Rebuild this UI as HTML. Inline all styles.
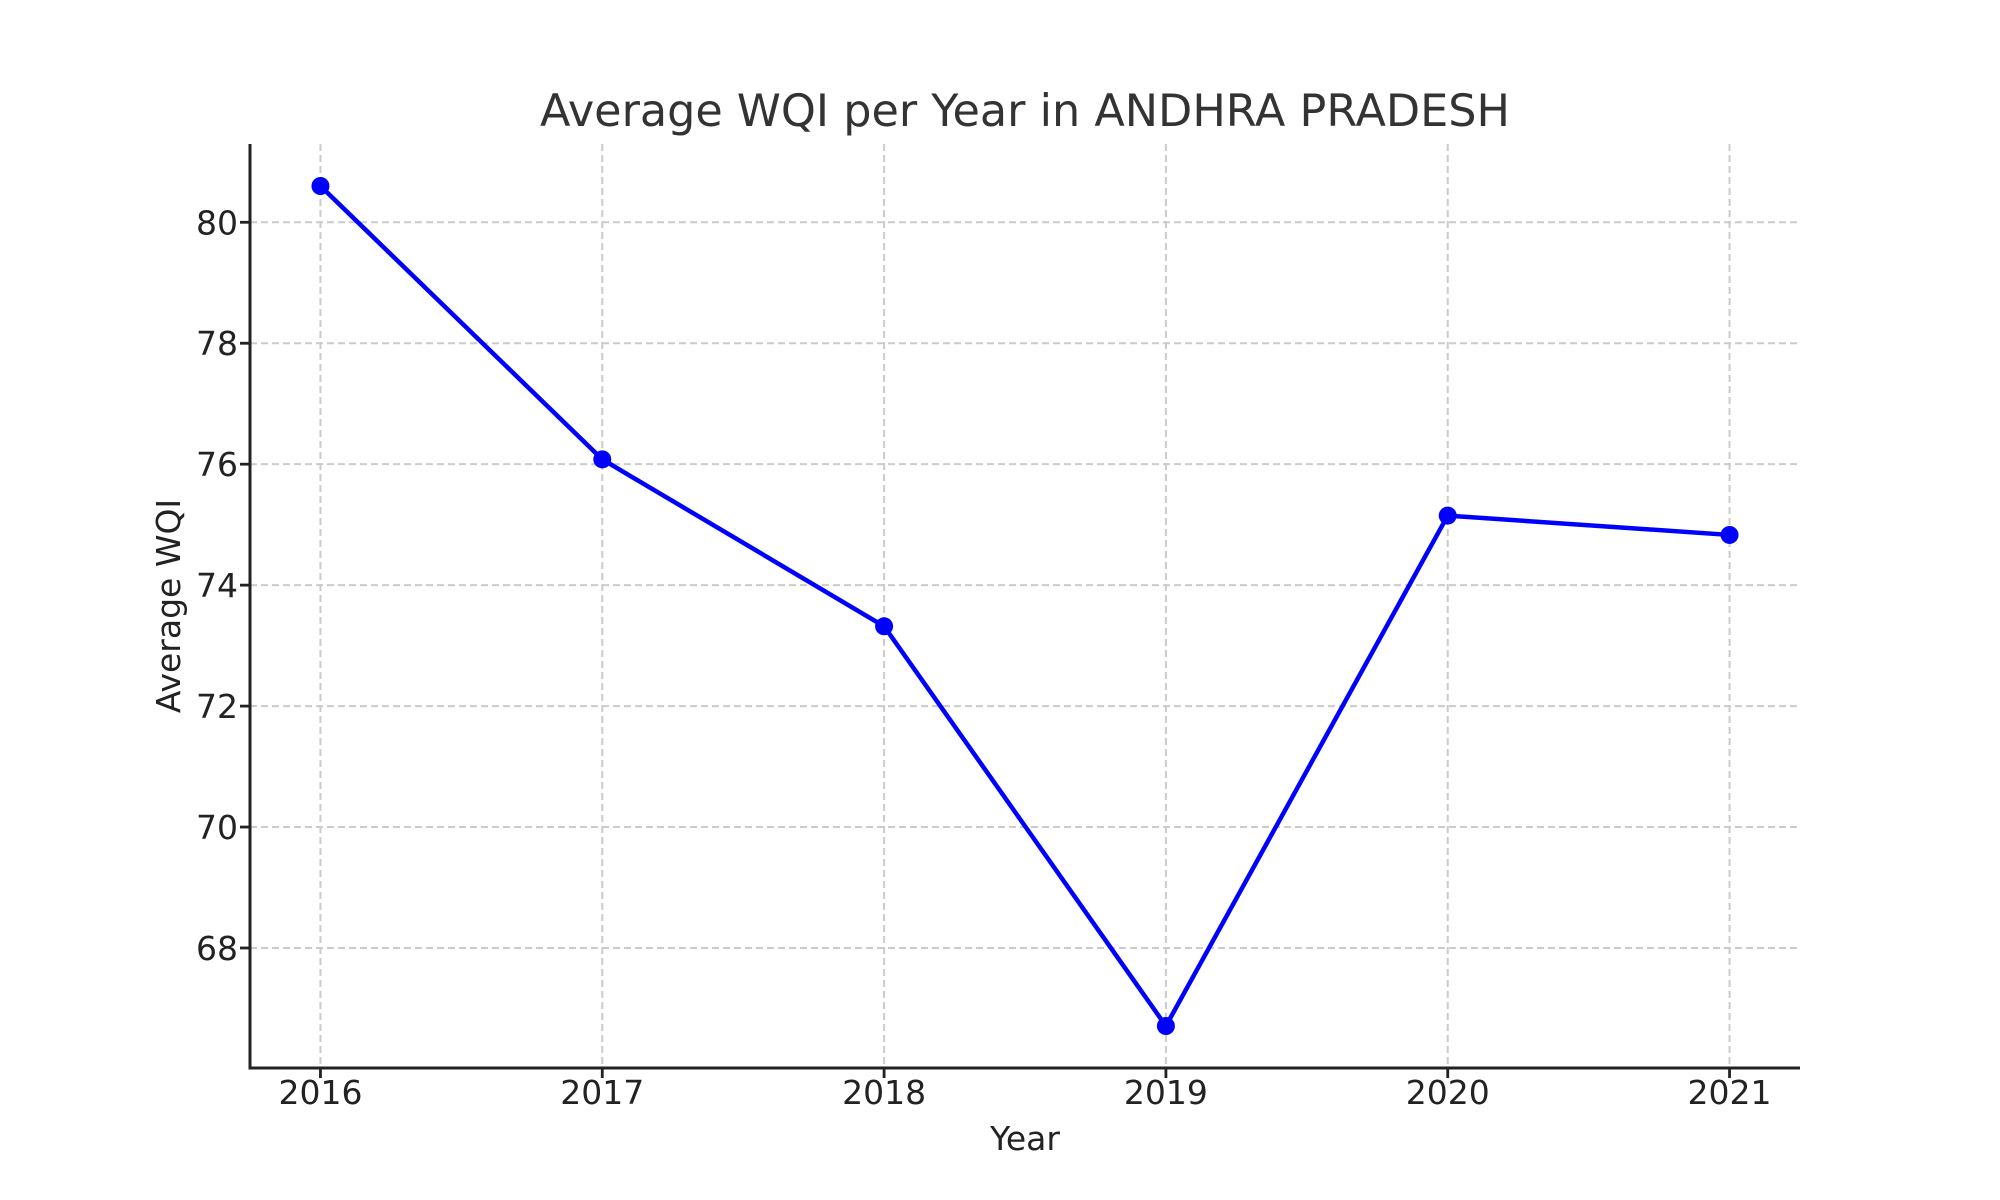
<!DOCTYPE html>
<html><head><meta charset="utf-8"><style>
html,body{margin:0;padding:0;background:#fff;}
svg{display:block;font-family:"DejaVu Sans","Liberation Sans",sans-serif;}
</style></head><body>
<svg id="chart" width="2000" height="1200" viewBox="0 0 2000 1200">
<rect x="0" y="0" width="2000" height="1200" fill="#fff"/>
<g id="grid"></g>
<g id="plot"></g>
<g id="axes"></g>
<text x="1025" y="126" text-anchor="middle" font-size="44.5" fill="#333">Average WQI per Year in ANDHRA PRADESH</text>
<text x="1025" y="1150" text-anchor="middle" font-size="33" fill="#222">Year</text>
<text transform="translate(180,606) rotate(-90)" text-anchor="middle" font-size="33" fill="#222">Average WQI</text>
</svg>
<script>
const years = [2016, 2017, 2018, 2019, 2020, 2021];
const wqi = [80.6, 76.08, 73.32, 66.71, 75.15, 74.83];
const yTicks = [68, 70, 72, 74, 76, 78, 80];

const L = 250, R = 1800, T = 144, B = 1068;
const NS = 'http://www.w3.org/2000/svg';
const xmin = Math.min(...years), xmax = Math.max(...years);
const xpad = (xmax - xmin) * 0.05;
const ymin0 = Math.min(...wqi), ymax0 = Math.max(...wqi);
const ypad = (ymax0 - ymin0) * 0.05;
const x0 = xmin - xpad, x1 = xmax + xpad, y0 = ymin0 - ypad, y1 = ymax0 + ypad;
function xs(v){ return L + (v - x0) / (x1 - x0) * (R - L); }
function ys(v){ return B - (v - y0) / (y1 - y0) * (B - T); }
function mk(tag, attrs, parent){
  const e = document.createElementNS(NS, tag);
  for (const k in attrs) e.setAttribute(k, attrs[k]);
  parent.appendChild(e);
  return e;
}
const grid = document.getElementById('grid');
const plot = document.getElementById('plot');
const axes = document.getElementById('axes');

years.forEach(yr => {
  const g = mk('line', {x1: xs(yr), x2: xs(yr), y1: T, y2: B, stroke: '#cbcbcb', 'stroke-width': 2, 'stroke-dasharray': '7,4'}, grid);
  
  
  const t = mk('line', {x1: xs(yr), x2: xs(yr), y1: B, y2: B + 10, stroke: '#222', 'stroke-width': 2.8}, axes);
  
  
  const lb = mk('text', {x: xs(yr), y: B + 36, 'text-anchor': 'middle', 'font-size': 33, fill: '#222'}, axes);
  lb.textContent = yr;
  
  
});
yTicks.forEach(v => {
  const g = mk('line', {x1: L, x2: R, y1: ys(v), y2: ys(v), stroke: '#cbcbcb', 'stroke-width': 2, 'stroke-dasharray': '7,4'}, grid);
  
  
  const t = mk('line', {x1: L - 10, x2: L, y1: ys(v), y2: ys(v), stroke: '#222', 'stroke-width': 2.8}, axes);
  
  
  const lb = mk('text', {x: L - 12, y: ys(v) + 12, 'text-anchor': 'end', 'font-size': 33, fill: '#222'}, axes);
  lb.textContent = v;
  
  
});
const pts = years.map((yr, i) => xs(yr) + ',' + ys(wqi[i])).join(' ');
const line = mk('polyline', {points: pts, fill: 'none', stroke: '#0000ff', 'stroke-width': 4.5, 'stroke-linejoin': 'round'}, plot);


years.forEach((yr, i) => {
  const c = mk('circle', {cx: xs(yr), cy: ys(wqi[i]), r: 9, fill: '#0000ff'}, plot);
  
  
});
const sl = mk('line', {x1: L, x2: L, y1: T, y2: B + 1.5, stroke: '#222', 'stroke-width': 3}, axes);


const sb = mk('line', {x1: L - 1.5, x2: R, y1: B, y2: B, stroke: '#222', 'stroke-width': 3}, axes);


</script>
</body></html>
